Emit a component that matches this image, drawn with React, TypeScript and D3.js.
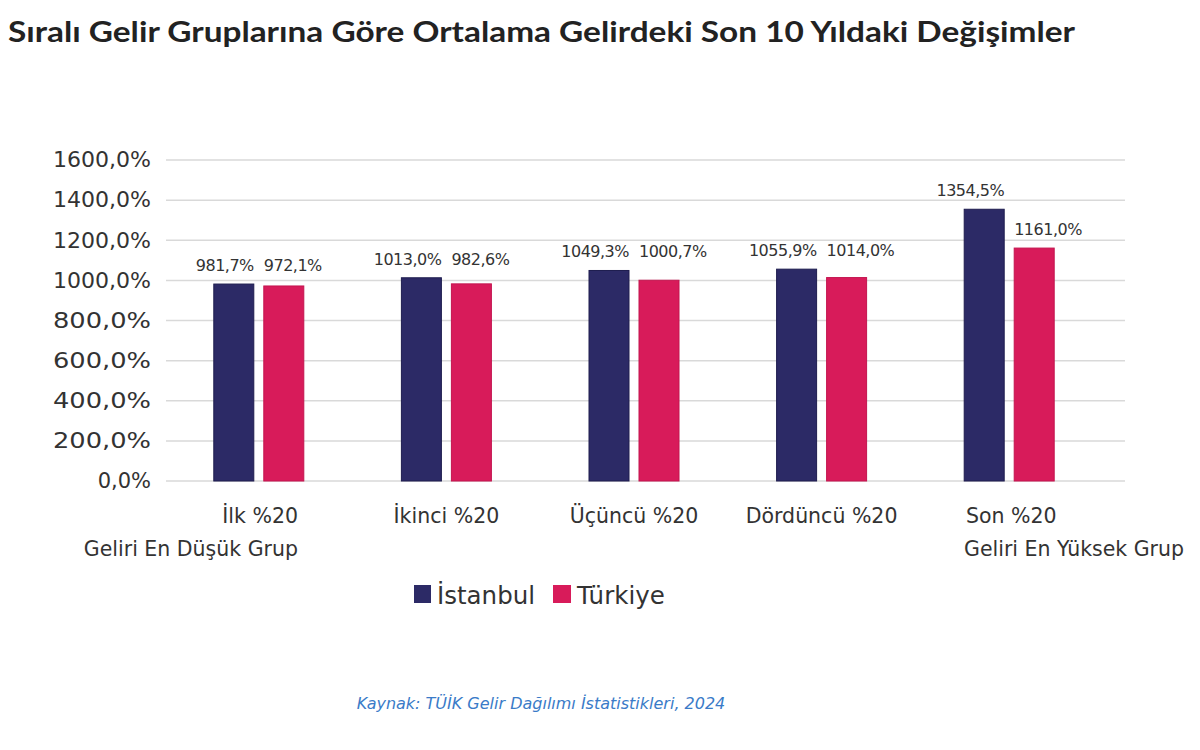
import React from "react";
import * as d3 from "d3";

const categories = ["İlk %20", "İkinci %20", "Üçüncü %20", "Dördüncü %20", "Son %20"];
const subLabels = ["Geliri En Düşük Grup", "", "", "", "Geliri En Yüksek Grup"];
const istanbul = [981.7, 1013.0, 1049.3, 1055.9, 1354.5];
const turkiye = [972.1, 982.6, 1000.7, 1014.0, 1161.0];
const yTicks = [0, 200, 400, 600, 800, 1000, 1200, 1400, 1600];
const seriesNames = ["İstanbul", "Türkiye"];

const W = 1200;
const H = 750;
const NAVY = "#2c2a66";
const PINK = "#d81b5a";
const TITLE_FONT = "Lato, 'Open Sans', sans-serif";
const FONT = "'DejaVu Sans', 'Open Sans', sans-serif";

const fmt = (v: number) => v.toFixed(1).replace(".", ",") + "%";

export default function App() {
  const x = d3.scaleBand<string>().domain(categories).range([165, 1103]).paddingInner(0).paddingOuter(0);
  const y = d3.scaleLinear().domain([0, 1600]).range([481, 160]);
  const barW = 40;
  const gap = 10;
  const series = [istanbul, turkiye];
  const colors = [NAVY, PINK];

  return (
    <svg width={W} height={H} style={{ position: "absolute", left: 0, top: 0, background: "#fff" }} fontFamily={FONT}>
      <rect x={0} y={0} width={W} height={H} fill="#fff" />
      <text x={8} y={42} fontFamily={TITLE_FONT} fontSize={28} fontWeight={700} fill="#222" textLength={1067} lengthAdjust="spacingAndGlyphs">
        Sıralı Gelir Gruplarına Göre Ortalama Gelirdeki Son 10 Yıldaki Değişimler
      </text>
      {yTicks.map((t) => (
        <g key={t}>
          <line x1={166} x2={1125} y1={y(t)} y2={y(t)} stroke="#d9d9d9" strokeWidth={1.5} />
          <text x={151} y={y(t)} dy="0.35em" textAnchor="end" fontSize={21} fill="#333" textLength={t === 0 ? undefined : 98} lengthAdjust="spacingAndGlyphs">
            {fmt(t)}
          </text>
        </g>
      ))}
      {categories.map((c, i) => {
        const cx = (x(c) as number) + x.bandwidth() / 2;
        const a = istanbul[i];
        const b = turkiye[i];
        const shared = Math.abs(a - b) < 100;
        return (
          <g key={c}>
            {series.map((s, j) => {
              const bx = cx - gap / 2 - barW + j * (barW + gap);
              const v = s[i];
              const ly = (shared ? y(Math.max(a, b)) : y(v)) - 13;
              return (
                <g key={j}>
                  <rect x={bx} y={y(v)} width={barW} height={y(0) - y(v)} fill={colors[j]} stroke={j === 0 ? "#1e1d4f" : "#c4154f"} strokeWidth={1} />
                  <text
                    x={j === 0 ? bx + barW : bx}
                    y={ly}
                    textAnchor={j === 0 ? "end" : "start"}
                    fontSize={16}
                    fill="#333"
                    letterSpacing={-0.5}
                  >
                    {fmt(v)}
                  </text>
                </g>
              );
            })}
          </g>
        );
      })}
      {categories.map((c, i) => {
        const cx = (x(c) as number) + x.bandwidth() / 2;
        let anchor: "start" | "middle" | "end" = "middle";
        let tx = cx;
        if (i === 0) { anchor = "end"; tx = 298; }
        if (i === categories.length - 1) { anchor = "start"; tx = 964; }
        return (
          <g key={"l" + c}>
            <text x={i === categories.length - 1 ? tx + 2 : tx} y={523} textAnchor={anchor} fontSize={20.5} fill="#333">{c}</text>
            {subLabels[i] && (
              <text x={tx} y={556} textAnchor={anchor} fontSize={20.5} fill="#333">{subLabels[i]}</text>
            )}
          </g>
        );
      })}
      <g>
        <rect x={414} y={585} width={17} height={18} fill={NAVY} />
        <text x={437} y={604} fontSize={24.5} fill="#333">{seriesNames[0]}</text>
        <rect x={553} y={585} width={18} height={18} fill={PINK} />
        <text x={577} y={604} fontSize={24.5} fill="#333">{seriesNames[1]}</text>
      </g>
      <text x={541} y={709} textAnchor="middle" fontSize={16} fontStyle="italic" fill="#3a7bc8">
        Kaynak: TÜİK Gelir Dağılımı İstatistikleri, 2024
      </text>
    </svg>
  );
}
